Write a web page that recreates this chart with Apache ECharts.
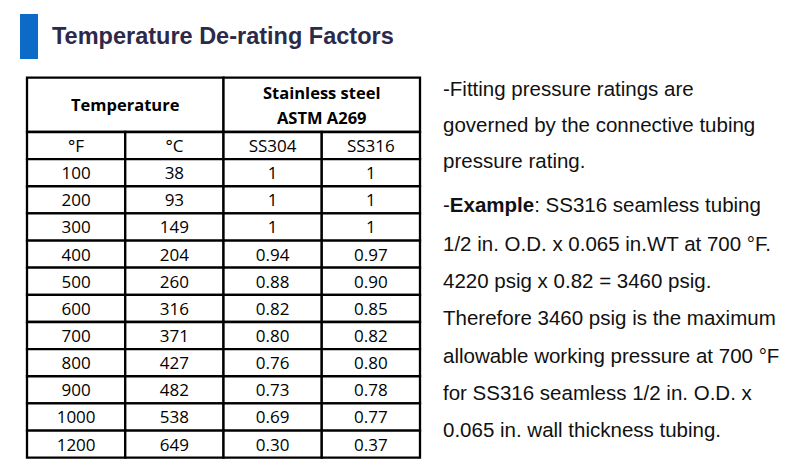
<!DOCTYPE html>
<html><head><meta charset="utf-8">
<script src="https://cdn.jsdelivr.net/npm/echarts@6/dist/echarts.min.js"></script>
<style>html,body{margin:0;padding:0;background:#fff}#c{width:795px;height:468px}</style>
</head><body><div id="c"></div>
<script>
const titleText = 'Temperature De-rating Factors';
const headerGroups = ['Temperature', 'Stainless steel\nASTM A269'];
const columns = ['°F', '°C', 'SS304', 'SS316'];
const tempF = ['100', '200', '300', '400', '500', '600', '700', '800', '900', '1000', '1200'];
const tempC = ['38', '93', '149', '204', '260', '316', '371', '427', '482', '538', '649'];
const ss304 = ['1', '1', '1', '0.94', '0.88', '0.82', '0.80', '0.76', '0.73', '0.69', '0.30'];
const ss316 = ['1', '1', '1', '0.97', '0.90', '0.85', '0.82', '0.80', '0.78', '0.77', '0.37'];
const notes = [
  '-Fitting pressure ratings are',
  'governed by the connective tubing',
  'pressure rating.',
  '-{b|Example}: SS316 seamless tubing',
  '1/2 in. O.D. x 0.065 in.WT at 700 °F.',
  '4220 psig x 0.82 = 3460 psig.',
  'Therefore 3460 psig is the maximum',
  'allowable working pressure at 700 °F',
  'for SS316 seamless 1/2 in. O.D. x',
  '0.065 in. wall thickness tubing.'
];
const noteY = [88, 124.5, 160.5, 204.5, 243, 280.5, 317.5, 355, 392, 429.5];

const rowCats = ['head1', 'head2', 'units'].concat(tempF);
const cells = [];
cells.push({col: 0, row: 0, cs: 2, rs: 2, text: headerGroups[0], bold: true});
cells.push({col: 2, row: 0, cs: 2, rs: 2, text: headerGroups[1], bold: true});
columns.forEach((t, i) => cells.push({col: i, row: 2, cs: 1, rs: 1, text: t, bold: false}));
const dataCols = [tempF, tempC, ss304, ss316];
tempF.forEach((_, r) => {
  dataCols.forEach((arr, c) => cells.push({col: c, row: r + 3, cs: 1, rs: 1, text: arr[r], bold: false}));
});

const noteFont = '"Liberation Sans", Arial, sans-serif';
const chart = echarts.init(document.getElementById('c'), null, {renderer: 'svg'});
chart.setOption({
  animation: false,
  backgroundColor: '#fff',
  grid: {left: 27, top: 77.7, width: 393, height: 380},
  xAxis: {type: 'category', data: columns, show: false},
  yAxis: {type: 'category', data: rowCats, inverse: true, show: false},
  graphic: [
    {type: 'rect', shape: {x: 20, y: 14, width: 18, height: 45}, style: {fill: '#0b6bc6'}},
    {type: 'text', x: 52, y: 35.5, style: {text: titleText, font: 'bold 23.5px ' + noteFont, fill: '#2c2949', verticalAlign: 'middle'}}
  ].concat(notes.map((t, i) => ({
    type: 'text', x: 443, y: noteY[i],
    style: {
      text: t, font: '20.5px ' + noteFont, fill: '#111', verticalAlign: 'middle',
      rich: {b: {fontWeight: 'bold', fontSize: 20.5, fontFamily: noteFont, fill: '#111'}}
    }
  }))),
  series: [{
    type: 'custom',
    coordinateSystem: 'cartesian2d',
    data: cells.map(c => [c.col, c.row, c.cs, c.rs]),
    renderItem: function (params, api) {
      const c = cells[params.dataIndex];
      const p = api.coord([c.col, c.row]);
      const s = api.size([1, 1]);
      const x = p[0] - s[0] / 2, y = p[1] - s[1] / 2;
      const w = s[0] * c.cs, h = s[1] * c.rs;
      return {
        type: 'group',
        children: [
          {type: 'rect', shape: {x: x, y: y, width: w, height: h}, style: {fill: '#fff', stroke: '#000', lineWidth: 2.3}},
          {type: 'text', style: {
            x: x + w / 2, y: y + h / 2, text: c.text, align: 'center', verticalAlign: 'middle',
            font: (c.bold ? 'bold 16.5px ' : '17px ') + '"Open Sans", sans-serif', fill: '#000', lineHeight: 25
          }}
        ]
      };
    }
  }]
});
</script></body></html>
